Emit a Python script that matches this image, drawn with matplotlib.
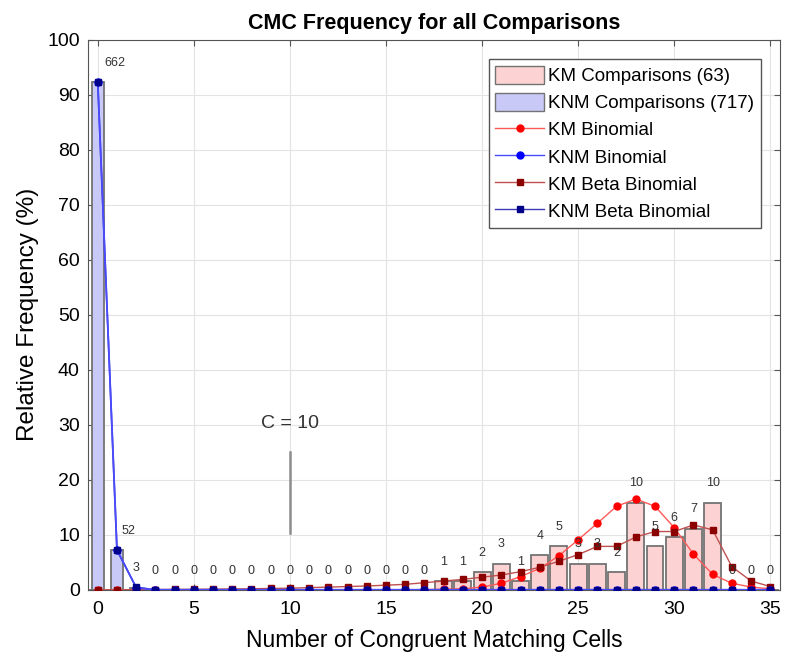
import numpy as np
import matplotlib.pyplot as plt
from matplotlib.patches import Patch
from matplotlib.lines import Line2D

plt.rcParams['font.family'] = ['Liberation Sans', 'DejaVu Sans']

# number of congruent matching cells
cmc = np.arange(0, 36)

# counts per CMC value
km_counts = [0] * 18 + [1, 1, 2, 3, 1, 4, 5, 3, 3, 2, 10, 5, 6, 7, 10, 0, 0, 0]
knm_counts = [662, 52, 3] + [0] * 33

# fitted distributions (relative frequency, %)
km_binom = [0] * 17 + [0.05, 0.1, 0.2, 0.5, 1.2, 2.4, 3.9, 6.2, 9.1, 12.1, 15.2,
                       16.5, 15.2, 11.3, 6.5, 2.8, 1.2, 0.5, 0.2]
knm_binom = [92.3, 7.3, 0.4] + [0] * 33
km_beta = [0, 0.02, 0.04, 0.06, 0.08, 0.1, 0.13, 0.16, 0.2, 0.25, 0.3, 0.4, 0.5,
           0.6, 0.7, 0.85, 1.0, 1.3, 1.6, 1.9, 2.3, 2.7, 3.3, 4.1, 5.2, 6.4, 7.9,
           7.9, 9.6, 10.6, 10.6, 11.8, 10.9, 4.2, 1.6, 0.6]
knm_beta = [92.3, 7.2, 0.45] + [0.02] * 33

km_counts = np.array(km_counts)
knm_counts = np.array(knm_counts)
km_pct = km_counts / km_counts.sum() * 100
knm_pct = knm_counts / knm_counts.sum() * 100

fig = plt.figure(figsize=(7.87, 6.62), dpi=100)
ax = fig.add_axes([0.112, 0.109, 0.879, 0.831])

ax.bar(cmc, km_pct, width=0.88, color='#fcd2d2', edgecolor='#737373', linewidth=1.3, zorder=2)
ax.bar(cmc, knm_pct, width=0.6, color='#c9c9f7', edgecolor='#737373', linewidth=1.3, zorder=2)

ax.plot(cmc, km_binom, '-', color='#ff5a5a', lw=1.0, zorder=3)
ax.plot(cmc, km_binom, 'o', color='#ff0000', ms=5, zorder=3)
ax.plot(cmc, km_beta, '-', color='#c05050', lw=1.0, zorder=4)
ax.plot(cmc, km_beta, 's', color='#8b0000', ms=5, zorder=4)
ax.plot(cmc, knm_beta, '-', color='#3c3cb8', lw=1.2, zorder=5)
ax.plot(cmc, knm_binom, '-', color='#4a4aff', lw=1.3, zorder=5)
ax.plot(cmc, knm_binom, 'o', color='#0000ff', ms=5, zorder=5)
ax.plot(cmc, knm_beta, 's', color='#00008b', ms=5, zorder=6)

# count labels above the bars
for x in cmc:
    if x < 3:
        n, h = knm_counts[x], knm_pct[x]
        dx = [0.9, 0.6, 0.0][x]
    else:
        n, h = km_counts[x], km_pct[x]
        dx = 0.0
    ax.text(x + dx, h + 3.5, str(n), ha='center', va='center', fontsize=9, color='#333333', zorder=7)

# threshold marker
ax.plot([10, 10], [10.4, 25], color='#8c8c8c', lw=1.8, zorder=2)
ax.text(10, 30.3, 'C = 10', ha='center', va='center', fontsize=14, color='#333333')

ax.set_xlim(-0.5, 35.5)
ax.set_ylim(0, 100)
ax.set_xticks(range(0, 36, 5))
ax.set_yticks(range(0, 101, 10))
ax.tick_params(direction='in', labelsize=14, length=4, color='#555555', top=True, right=True)
ax.tick_params(axis='x', pad=8)
ax.tick_params(axis='y', pad=6)
ax.grid(True, color='#e3e3e3', lw=0.8, zorder=0)
ax.set_axisbelow(True)
for s in ax.spines.values():
    s.set_color('#555555')

ax.set_title('CMC Frequency for all Comparisons', fontsize=15.5, fontweight='bold', pad=8)
ax.set_xlabel('Number of Congruent Matching Cells', fontsize=16.5, labelpad=8)
ax.set_ylabel('Relative Frequency (%)', fontsize=17.5, labelpad=6)

handles = [
    Patch(facecolor='#fcd2d2', edgecolor='#737373', label='KM Comparisons (%d)' % km_counts.sum()),
    Patch(facecolor='#c9c9f7', edgecolor='#737373', label='KNM Comparisons (%d)' % knm_counts.sum()),
    Line2D([], [], color='#ff5a5a', marker='o', mfc='#ff0000', mec='#ff0000', ms=5, lw=1, label='KM Binomial'),
    Line2D([], [], color='#4a4aff', marker='o', mfc='#0000ff', mec='#0000ff', ms=5, lw=1, label='KNM Binomial'),
    Line2D([], [], color='#c05050', marker='s', mfc='#8b0000', mec='#8b0000', ms=5, lw=1, label='KM Beta Binomial'),
    Line2D([], [], color='#3c3cb8', marker='s', mfc='#00008b', mec='#00008b', ms=5, lw=1, label='KNM Beta Binomial'),
]
ax.legend(handles=handles, loc='upper right', bbox_to_anchor=(0.972, 0.965), fontsize=13.5,
          fancybox=False, edgecolor='#555555', framealpha=1, handlelength=2.6, handleheight=1.1,
          handletextpad=0.2, borderpad=0.35, labelspacing=0.42, borderaxespad=0)

fig.savefig('out.png', dpi=100)
